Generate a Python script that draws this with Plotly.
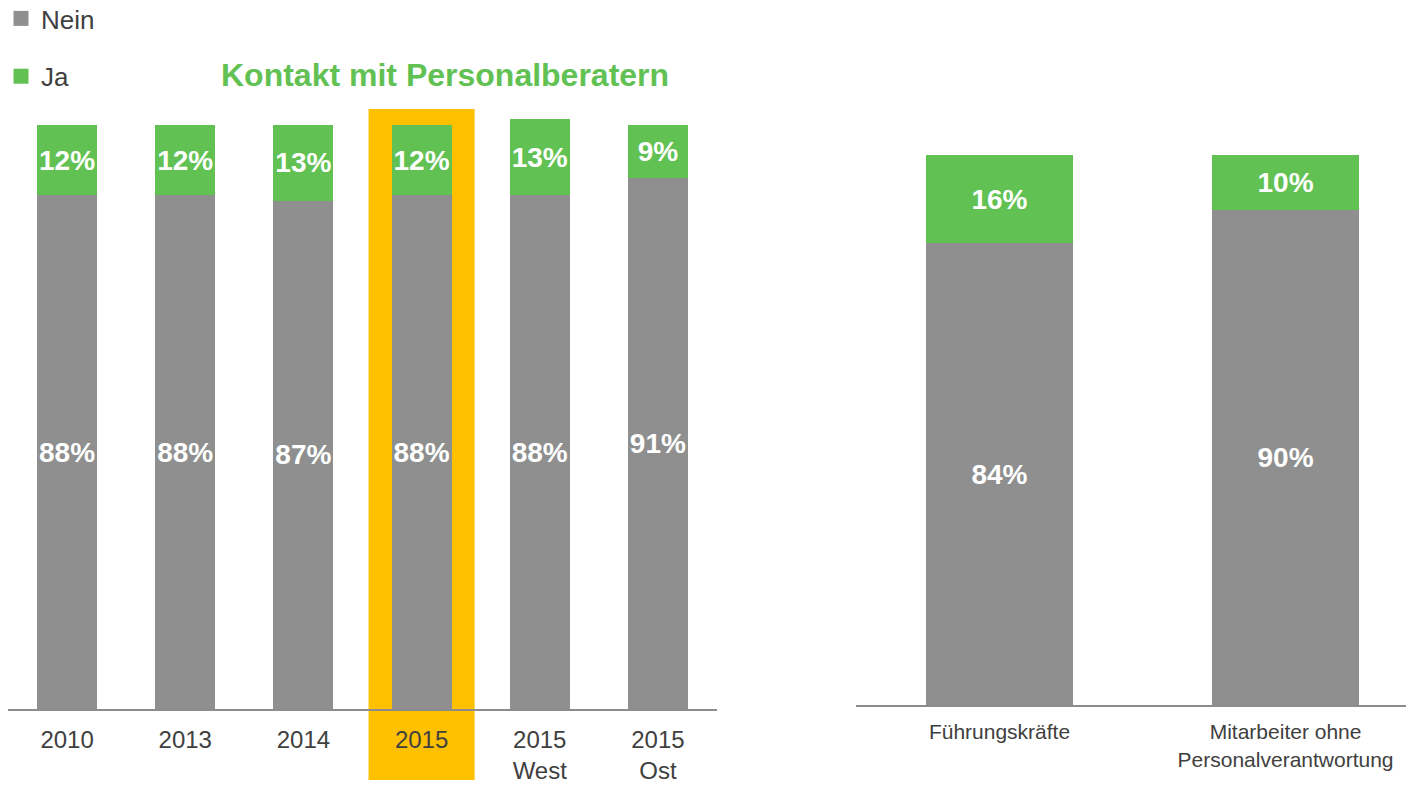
import plotly.graph_objects as go

# Left panel: survey waves
years = ["2010", "2013", "2014", "2015", "2015<br>West", "2015<br>Ost"]
nein_years = [88, 88, 87, 88, 88, 91]
ja_years = [12, 12, 13, 12, 13, 9]

# Right panel: by position
groups = ["Führungskräfte", "Mitarbeiter ohne<br>Personalverantwortung"]
nein_groups = [84, 90]
ja_groups = [16, 10]

series_names = ["Nein", "Ja"]
highlight_index = 3  # "2015" column

GRAY = "#8E8F8E"
GREEN = "#62C153"
ORANGE = "#FFC000"
TEXT = "#404040"
FONT = "Liberation Sans, Arial, sans-serif"
COLORS = {"Nein": GRAY, "Ja": GREEN}

W, H = 1406, 787


def fx(px):
    return px / W


def fy(py):
    return 1 - py / H


label_font = dict(family=FONT, size=28, color="white", weight="bold")

fig = go.Figure()

for name, vals in zip(series_names, [nein_years, ja_years]):
    fig.add_trace(go.Bar(
        x=list(range(len(years))), y=vals, name=name,
        marker=dict(color=COLORS[name], line=dict(width=0)),
        width=0.508,
        text=[f"{v}%" for v in vals], textposition="inside",
        insidetextanchor="middle", textangle=0, constraintext="none",
        textfont=label_font,
        xaxis="x", yaxis="y", showlegend=False, hoverinfo="skip",
    ))

for name, vals in zip(series_names, [nein_groups, ja_groups]):
    fig.add_trace(go.Bar(
        x=list(range(len(groups))), y=vals, name=name,
        marker=dict(color=COLORS[name], line=dict(width=0)),
        width=0.514,
        text=[f"{v}%" for v in vals], textposition="inside",
        insidetextanchor="middle", textangle=0, constraintext="none",
        textfont=label_font,
        xaxis="x2", yaxis="y2", showlegend=False, hoverinfo="skip",
    ))

# Legend entries with square swatches
for name in series_names:
    fig.add_trace(go.Scatter(
        x=[None], y=[None], mode="markers", name=name,
        marker=dict(symbol="square", size=15, color=COLORS[name]),
        xaxis="x", yaxis="y", legendgroup=name, showlegend=True,
    ))

# Highlight band behind the 2015 column
fig.add_shape(
    type="rect", xref="x", yref="paper",
    x0=highlight_index - 0.449, x1=highlight_index + 0.449,
    y0=fy(780), y1=fy(109),
    fillcolor=ORANGE, line=dict(width=0), layer="below",
)

fig.add_annotation(
    text="<b>Kontakt mit Personalberatern</b>",
    xref="paper", yref="paper", x=fx(445), y=fy(75),
    xanchor="center", yanchor="middle", showarrow=False,
    font=dict(family=FONT, size=32, color=GREEN),
)

axis_line = dict(showline=True, linecolor="#8C8C8C", linewidth=2,
                 showgrid=False, zeroline=False, ticks="", fixedrange=True)

fig.update_layout(
    width=W, height=H,
    margin=dict(l=0, r=0, t=0, b=0, autoexpand=False),
    paper_bgcolor="white", plot_bgcolor="rgba(0,0,0,0)",
    barmode="stack",
    font=dict(family=FONT, color=TEXT),
    showlegend=True,
    legend=dict(
        x=fx(1), y=fy(-5), xanchor="left", yanchor="top",
        orientation="v", traceorder="grouped", tracegroupgap=21,
        font=dict(family=FONT, size=26, color=TEXT),
        bgcolor="rgba(0,0,0,0)", itemwidth=30,
    ),
    xaxis=dict(
        domain=[fx(8), fx(717)], range=[-0.5, 5.5],
        tickmode="array", tickvals=list(range(len(years))), ticktext=years,
        tickfont=dict(family=FONT, size=24, color=TEXT),
        ticklabelstandoff=8, anchor="y", **axis_line,
    ),
    yaxis=dict(
        domain=[fy(709), fy(95.8)], range=[0, 105], visible=False,
        fixedrange=True,
    ),
    xaxis2=dict(
        domain=[fx(856), 1.0], range=[-0.5017, 1.421],
        tickmode="array", tickvals=list(range(len(groups))), ticktext=groups,
        tickfont=dict(family=FONT, size=21, color=TEXT),
        ticklabelstandoff=7, anchor="y2", **axis_line,
    ),
    yaxis2=dict(
        domain=[fy(705), fy(127.5)], range=[0, 105], visible=False,
        fixedrange=True,
    ),
)

fig.write_html("out.html", config={"displayModeBar": False})
